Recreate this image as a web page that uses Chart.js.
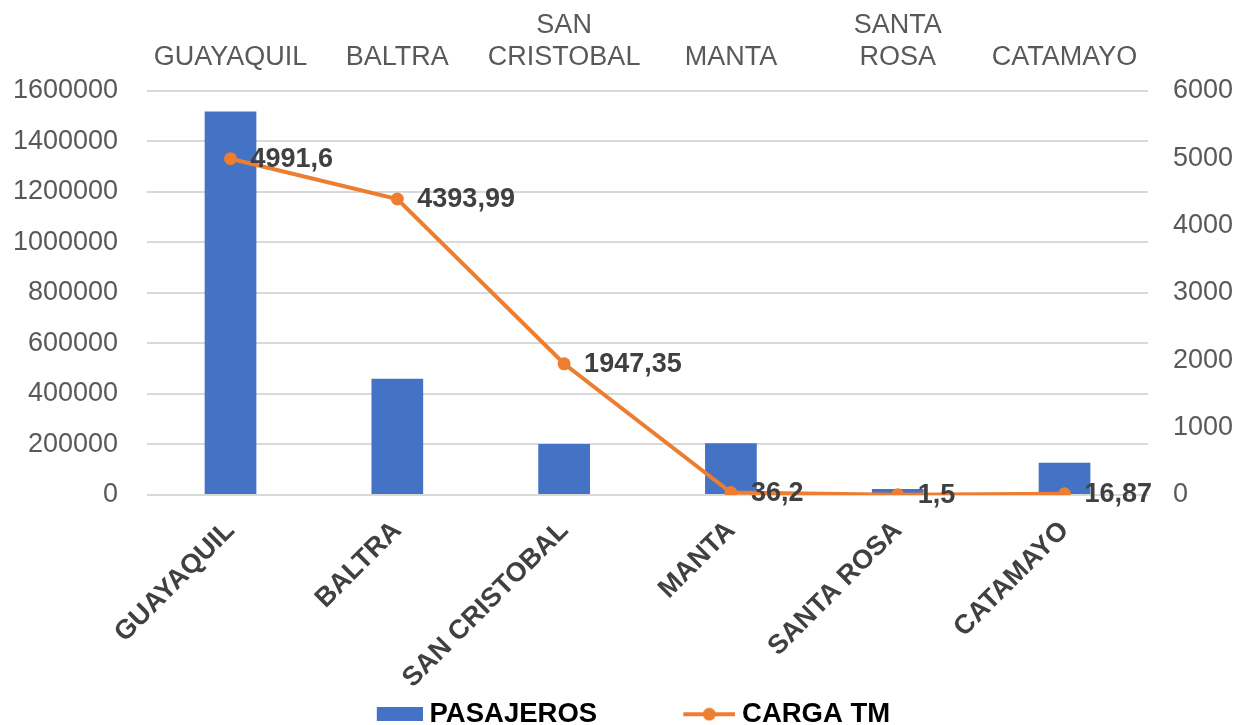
<!DOCTYPE html>
<html>
<head>
<meta charset="utf-8">
<script src="https://cdn.jsdelivr.net/npm/chart.js@4/dist/chart.umd.min.js"></script>
<style>
  html, body { margin: 0; padding: 0; background: #fff; }
  canvas { display: block; }
</style>
</head>
<body>
<canvas id="chart" width="1241" height="725"></canvas>
<script>
// Categories (bottom axis, rotated) and the same names on the top axis
const categories = ['GUAYAQUIL', 'BALTRA', 'SAN CRISTOBAL', 'MANTA', 'SANTA ROSA', 'CATAMAYO'];
const topLabels = ['GUAYAQUIL', 'BALTRA', ['SAN', 'CRISTOBAL'], 'MANTA', ['SANTA', 'ROSA'], 'CATAMAYO'];

// Series values
const pasajeros = [1518000, 460000, 202000, 205000, 24000, 128000];
const cargaTM = [4991.6, 4393.99, 1947.35, 36.2, 1.5, 16.87];

// Axis ranges
const leftMax = 1600000, leftStep = 200000;
const rightMax = 6000, rightStep = 1000;

const FONT = '"Liberation Sans", Arial, sans-serif';
const BLUE = '#4472C4';
const ORANGE = '#ED7D31';

// Legend icons, right-aligned in a wider canvas so the text sits close to them
function barIcon() {
  const c = document.createElement('canvas');
  c.width = 74; c.height = 14;
  const g = c.getContext('2d');
  g.fillStyle = BLUE;
  g.fillRect(28, 0, 46, 14);
  return c;
}
function lineIcon() {
  const c = document.createElement('canvas');
  c.width = 74; c.height = 14;
  const g = c.getContext('2d');
  g.strokeStyle = ORANGE;
  g.lineWidth = 4;
  g.beginPath(); g.moveTo(22, 7); g.lineTo(74, 7); g.stroke();
  g.fillStyle = ORANGE;
  g.beginPath(); g.arc(48, 7, 6.5, 0, Math.PI * 2); g.fill();
  return c;
}

// Value labels next to the line points
const pointLabels = {
  id: 'pointLabels',
  afterDatasetsDraw(chart) {
    const meta = chart.getDatasetMeta(1);
    const ctx = chart.ctx;
    ctx.save();
    ctx.font = 'bold 27px ' + FONT;
    ctx.fillStyle = '#404040';
    ctx.textBaseline = 'middle';
    ctx.textAlign = 'left';
    meta.data.forEach((pt, i) => {
      ctx.fillText(String(cargaTM[i]).replace('.', ','), pt.x + 20, pt.y + 1);
    });
    ctx.restore();
  }
};

// Chart.js reserves the tick padding on both sides of a scale; afterFit trims the outer one
new Chart(document.getElementById('chart'), {
  type: 'bar',
  data: {
    labels: categories,
    datasets: [
      {
        type: 'bar',
        label: 'PASAJEROS',
        data: pasajeros,
        backgroundColor: BLUE,
        yAxisID: 'y',
        xAxisID: 'x',
        categoryPercentage: 1,
        barPercentage: 0.31,
        order: 2,
      },
      {
        type: 'line',
        label: 'CARGA TM',
        data: cargaTM,
        borderColor: ORANGE,
        backgroundColor: ORANGE,
        borderWidth: 4,
        pointRadius: 6.5,
        pointBorderWidth: 0,
        pointBackgroundColor: ORANGE,
        tension: 0,
        yAxisID: 'y1',
        xAxisID: 'x',
        order: 1,
      },
    ],
  },
  options: {
    responsive: false,
    animation: false,
    devicePixelRatio: 1,
    layout: { padding: { top: 9, left: 13, right: 8, bottom: -13 } },
    plugins: {
      tooltip: { enabled: false },
      legend: {
        position: 'bottom',
        labels: {
          usePointStyle: true,
          pointStyleWidth: 60,
          boxHeight: 16,
          padding: 10,
          color: '#404040',
          font: { family: FONT, size: 27.5, weight: 'bold' },
          generateLabels: () => [
            { text: 'PASAJEROS' + '\u00A0'.repeat(8), pointStyle: barIcon(), fillStyle: BLUE, strokeStyle: BLUE, lineWidth: 0, datasetIndex: 0, hidden: false },
            { text: 'CARGA TM', pointStyle: lineIcon(), fillStyle: ORANGE, strokeStyle: ORANGE, lineWidth: 0, datasetIndex: 1, hidden: false },
          ],
        },
      },
    },
    scales: {
      x: {
        position: 'bottom',
        offset: true,
        afterFit: s => { s.paddingLeft = 0; s.paddingRight = 0; s.height -= 24; },
        grid: { display: false, drawTicks: false },
        border: { display: false },
        ticks: {
          autoSkip: false,
          minRotation: 45,
          maxRotation: 45,
          padding: 20,
          color: '#404040',
          font: { family: FONT, size: 27, weight: 'bold' },
        },
      },
      x2: {
        type: 'category',
        axis: 'x',
        position: 'top',
        labels: topLabels,
        offset: true,
        afterFit: s => { s.paddingLeft = 0; s.paddingRight = 0; s.height -= 17; },
        grid: { display: false, drawTicks: false },
        border: { display: false },
        ticks: {
          autoSkip: false,
          minRotation: 0,
          maxRotation: 0,
          padding: 17,
          color: '#595959',
          font: { family: FONT, size: 27, lineHeight: 1.2 },
        },
      },
      y: {
        position: 'left',
        min: 0,
        max: leftMax,
        afterFit: s => { s.width -= 29; },
        grid: { color: '#D9D9D9', lineWidth: 2, drawTicks: false },
        border: { display: false },
        ticks: {
          stepSize: leftStep,
          padding: 29,
          color: '#595959',
          font: { family: FONT, size: 27 },
          callback: v => String(v),
        },
      },
      y1: {
        position: 'right',
        min: 0,
        max: rightMax,
        afterFit: s => { s.width -= 25; },
        grid: { display: false, drawTicks: false },
        border: { display: false },
        ticks: {
          stepSize: rightStep,
          padding: 25,
          color: '#595959',
          font: { family: FONT, size: 27 },
          callback: v => String(v),
        },
      },
    },
  },
  plugins: [pointLabels],
});
</script>
</body>
</html>
